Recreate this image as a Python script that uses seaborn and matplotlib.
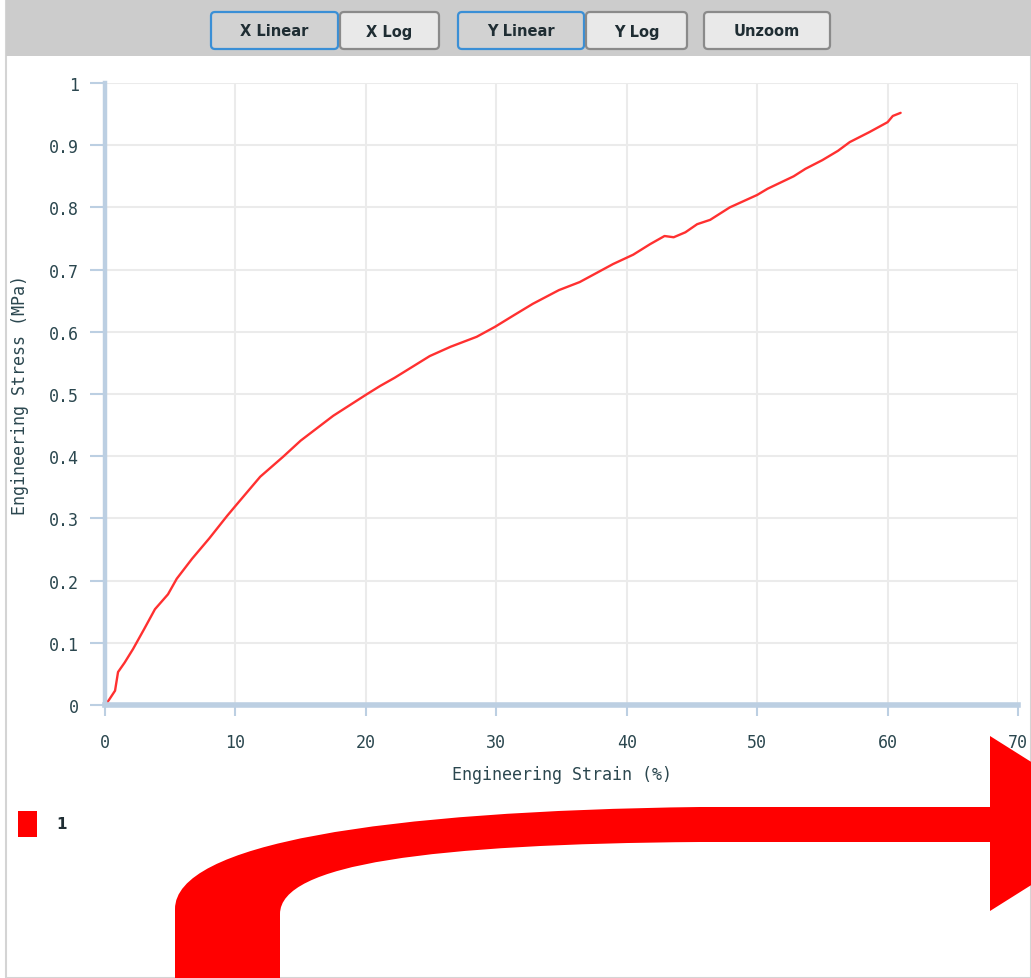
import matplotlib
matplotlib.use("Agg")
import matplotlib.pyplot as plt
from matplotlib.patches import FancyBboxPatch, Rectangle, PathPatch
from matplotlib.path import Path
from matplotlib.ticker import MultipleLocator, FuncFormatter
import seaborn as sns
import pandas as pd

# Tensile test, specimen 1
strain_pct = [0.0, 0.3, 0.77, 1.0, 1.5, 2.15, 3.0, 3.83, 4.83, 5.5, 6.67,
              8.0, 9.36, 10.0, 11.9, 13.65, 15.0, 17.5, 20.1, 21.1, 22.2,
              24.9, 26.5, 28.5, 29.9, 31.3, 32.8, 34.8, 36.4, 38.96, 40.5,
              41.8, 42.9, 43.6, 44.5, 45.4, 46.4, 47.9, 50.0, 50.8, 52.8,
              53.7, 55.0, 56.2, 57.1, 58.6, 60.0, 60.4, 61.0]
stress_mpa = [0.0, 0.008, 0.023, 0.053, 0.068, 0.09, 0.122, 0.154, 0.178,
              0.203, 0.235, 0.268, 0.304, 0.32, 0.367, 0.399, 0.425, 0.465,
              0.5, 0.513, 0.526, 0.561, 0.576, 0.592, 0.608, 0.626, 0.645,
              0.667, 0.68, 0.709, 0.724, 0.741, 0.754, 0.752, 0.760, 0.773,
              0.780, 0.80, 0.82, 0.83, 0.85, 0.862, 0.876, 0.891, 0.905,
              0.921, 0.937, 0.947, 0.952]
series_name = "1"

x_ticks = [0, 10, 20, 30, 40, 50, 60, 70]
y_ticks = [0, 0.1, 0.2, 0.3, 0.4, 0.5, 0.6, 0.7, 0.8, 0.9, 1.0]
buttons = ["X Linear", "X Log", "Y Linear", "Y Log", "Unzoom"]
selected = {"X Linear", "Y Linear"}

W, H = 1031, 979
sns.set_theme(style="white")
plt.rcParams["font.family"] = ["DejaVu Sans Mono", "DejaVu Sans"]

TEXT = "#2b474f"
SPINE = "#bccfe2"
GRID = "#ebebeb"
LINE = "#ff3030"

fig = plt.figure(figsize=(W / 100, H / 100), dpi=100)
fig.patch.set_facecolor("white")


def fx(px):
    return px / W


def fy(py):
    return 1 - py / H


# panel frame and toolbar
fig.add_artist(Rectangle((fx(6), fy(979)), fx(1031 - 6), 1, transform=fig.transFigure,
                         facecolor="white", edgecolor="#d4d4d4", lw=1.5, zorder=0))
fig.add_artist(Rectangle((fx(6), fy(57)), fx(1031 - 6), 57 / H, transform=fig.transFigure,
                         facecolor="#cccccc", edgecolor="none", zorder=1))

btn_boxes = [(210, 339), (339, 440), (457, 585), (585, 688), (703, 831)]
for name, (x0, x1) in zip(buttons, btn_boxes):
    sel = name in selected
    box = FancyBboxPatch((fx(x0 + 1), fy(50)), fx(x1 - x0 - 2), 37 / H,
                         boxstyle="round,pad=0,rounding_size=0.004",
                         transform=fig.transFigure,
                         facecolor="#d2d2d2" if sel else "#e9e9e9",
                         edgecolor="#3a8fd6" if sel else "#8a8a8a",
                         lw=1.6, zorder=2)
    fig.add_artist(box)
    fig.text(fx((x0 + x1) / 2), fy(32), name, ha="center", va="center",
             fontsize=10.5, fontweight="bold", color="#1f2d33",
             family="DejaVu Sans", zorder=3)

# plotting area
ax = fig.add_axes([fx(105), fy(706), fx(1018 - 105), (706 - 84) / H])
df = pd.DataFrame({"strain": strain_pct, "stress": stress_mpa})
sns.lineplot(data=df, x="strain", y="stress", sort=False, estimator=None,
             color=LINE, lw=1.7, ax=ax)

ax.set_xlim(0, 70)
ax.set_ylim(0, 1)
ax.set_xticks(x_ticks)
ax.set_yticks(y_ticks)
ax.yaxis.set_minor_locator(MultipleLocator(0.05))
fmt = FuncFormatter(lambda v, _: f"{v:g}")
ax.xaxis.set_major_formatter(fmt)
ax.yaxis.set_major_formatter(fmt)
ax.grid(True, which="major", color=GRID, lw=1.5)
ax.set_axisbelow(True)

for side in ("top", "right"):
    ax.spines[side].set_visible(False)
ax.spines["left"].set_color(SPINE)
ax.spines["left"].set_linewidth(3.2)
ax.spines["bottom"].set_color(SPINE)
ax.spines["bottom"].set_linewidth(4)

ax.tick_params(axis="y", which="major", left=True, direction="out", length=11,
               width=1.5, color=SPINE, labelsize=12, labelcolor=TEXT, pad=8)
ax.tick_params(axis="y", which="minor", left=True, direction="inout", length=3,
               width=1.5, color="white")
ax.tick_params(axis="x", which="major", bottom=True, direction="out", length=8,
               width=1.5, color=SPINE, labelsize=12, labelcolor=TEXT, pad=12)

ax.set_xlabel("Engineering Strain (%)", fontsize=12, color=TEXT, labelpad=10)
ax.set_ylabel("Engineering Stress (MPa)", fontsize=12, color=TEXT, labelpad=14)

# legend entry
fig.add_artist(Rectangle((fx(18), fy(838)), fx(19), 26 / H, transform=fig.transFigure,
                         facecolor="#ff0000", edgecolor="none", zorder=2))
fig.text(fx(56), fy(825), series_name, ha="left", va="center", fontsize=11,
         fontweight="bold", color="#1f2d33", family="DejaVu Sans")

# curved pointer arrow along the bottom of the panel
verts = [
    (175, 985), (175, 910),
    (175, 845), (380, 812), (700, 808),
    (990, 808), (990, 737), (1129, 824.5), (990, 912), (990, 843), (700, 843),
    (430, 845), (280, 865), (280, 915),
    (280, 985), (175, 985),
]
codes = ([Path.MOVETO, Path.LINETO]
         + [Path.CURVE4] * 3
         + [Path.LINETO] * 6
         + [Path.CURVE4] * 3
         + [Path.LINETO, Path.CLOSEPOLY])
arrow = Path([(fx(x), fy(y)) for x, y in verts], codes)
fig.add_artist(PathPatch(arrow, transform=fig.transFigure, facecolor="#ff0000",
                         edgecolor="none", zorder=4))

fig.savefig("out.png", dpi=100)
